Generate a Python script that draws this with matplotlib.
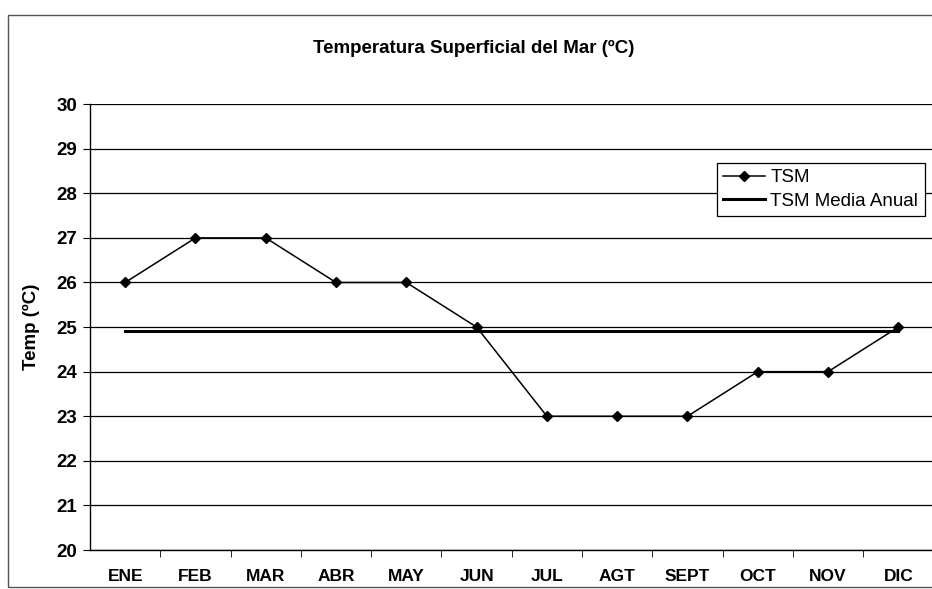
import matplotlib.pyplot as plt
from matplotlib.patches import Rectangle
from matplotlib import font_manager

months = ['ENE', 'FEB', 'MAR', 'ABR', 'MAY', 'JUN', 'JUL', 'AGT', 'SEPT', 'OCT', 'NOV', 'DIC']
tsm = [26, 27, 27, 26, 26, 25, 23, 23, 23, 24, 24, 25]
tsm_media = sum(tsm) / len(tsm)

names = {f.name for f in font_manager.fontManager.ttflist}
narrow = 'Liberation Sans Narrow' if 'Liberation Sans Narrow' in names else 'Liberation Sans'

fig = plt.figure(figsize=(9.32, 5.89), dpi=100)
ax = fig.add_axes([0.0966, 0.0662, 0.905, 0.757])

x = list(range(len(months)))
ax.plot(x, tsm, color='black', lw=1.1, marker='D', ms=5, label='TSM')
ax.plot(x, [tsm_media] * len(x), color='black', lw=2.2, label='TSM Media Anual')

ax.set_xlim(-0.5, len(months) - 0.5)
ax.set_ylim(20, 30)
ax.set_yticks(range(20, 31))
ax.grid(axis='y', color='black', lw=0.9)
ax.set_axisbelow(True)

ax.set_xticks(x)
ax.set_xticklabels(months, fontfamily=narrow, fontweight='bold', fontsize=12.5)
ax.set_xticks([i + 0.5 for i in x[:-1]], minor=True)
ax.tick_params(axis='x', which='major', length=0, pad=14)
ax.tick_params(axis='x', which='minor', length=5, direction='out', color='black')
ax.tick_params(axis='y', length=5, direction='out', pad=4)
for lab in ax.get_yticklabels():
    lab.set_fontfamily(narrow)
    lab.set_fontweight('bold')
    lab.set_fontsize(13.5)

for s in ['top', 'right']:
    ax.spines[s].set_visible(False)
for s in ['left', 'bottom']:
    ax.spines[s].set_color('black')
    ax.spines[s].set_linewidth(1.0)

ax.set_ylabel('Temp (ºC)', fontfamily=narrow, fontweight='bold', fontsize=13.5, labelpad=12)

fig.text(0.508, 0.918, 'Temperatura Superficial del Mar (ºC)', ha='center', va='center',
         fontfamily=narrow, fontweight='bold', fontsize=13.5)

leg = ax.legend(loc='upper left', bbox_to_anchor=(0.732, 0.89), frameon=True, fancybox=False,
                edgecolor='black', framealpha=1, borderpad=0.35, handlelength=2.2,
                handletextpad=0.3, labelspacing=0.35,
                prop={'family': 'Liberation Sans', 'size': 13.5})
leg.get_frame().set_linewidth(0.9)

# outer chart-area border, as in the scanned Excel chart
fig.patches.append(Rectangle((8 / 932, 2 / 589), 1.0, 1 - 17 / 589, transform=fig.transFigure,
                             fill=False, edgecolor='#555555', lw=1.0))

fig.savefig('out.png', dpi=100)
